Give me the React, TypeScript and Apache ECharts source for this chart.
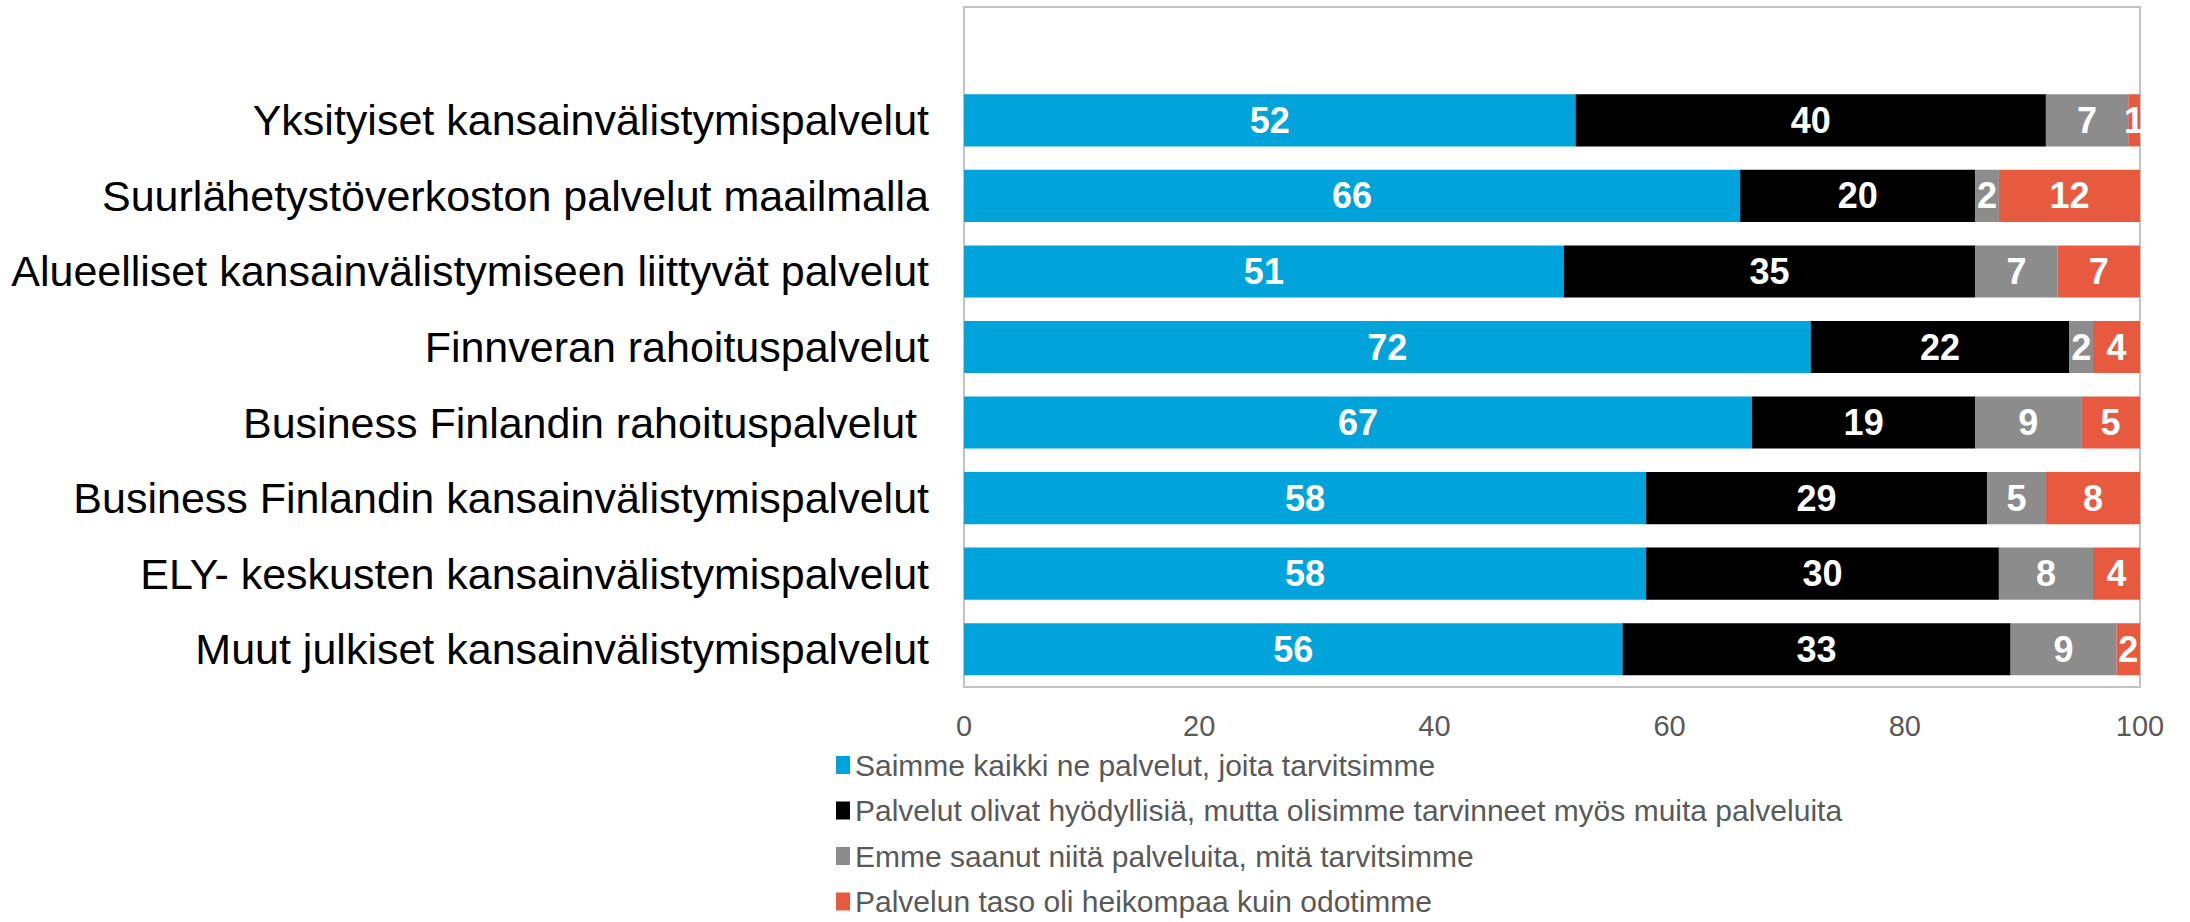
import React, { useEffect, useRef } from "react";
import * as echarts from "echarts";

const categories = [
  "",
  "Yksityiset kansainvälistymispalvelut",
  "Suurlähetystöverkoston palvelut maailmalla",
  "Alueelliset kansainvälistymiseen liittyvät palvelut",
  "Finnveran rahoituspalvelut",
  "Business Finlandin rahoituspalvelut ",
  "Business Finlandin kansainvälistymispalvelut",
  "ELY- keskusten kansainvälistymispalvelut",
  "Muut julkiset kansainvälistymispalvelut",
];

const seriesNames = [
  "Saimme kaikki ne palvelut, joita tarvitsimme",
  "Palvelut olivat hyödyllisiä, mutta olisimme tarvinneet myös muita palveluita",
  "Emme saanut niitä palveluita, mitä tarvitsimme",
  "Palvelun taso oli heikompaa kuin odotimme",
];

const saimme = [null, 52, 66, 51, 72, 67, 58, 58, 56];
const hyodyllisia = [null, 40, 20, 35, 22, 19, 29, 30, 33];
const emmeSaanut = [null, 7, 2, 7, 2, 9, 5, 8, 9];
const heikompaa = [null, 1, 12, 7, 4, 5, 8, 4, 2];

const seriesValues = [saimme, hyodyllisia, emmeSaanut, heikompaa];
const colors = ["#00A3DA", "#000000", "#8C8C8C", "#E85A40"];

const xTicks = { min: 0, max: 100, interval: 20 };

const FONT = "'Liberation Sans', Arial, sans-serif";

export default function App() {
  const ref = useRef<HTMLDivElement>(null);

  useEffect(() => {
    document.body.style.margin = "0";
    if (!ref.current) return;
    const chart = echarts.init(ref.current, undefined, { renderer: "svg" });
    chart.setOption({
      animation: false,
      backgroundColor: "#ffffff",
      textStyle: { fontFamily: FONT },
      grid: {
        left: 964,
        right: 50,
        top: 7,
        bottom: 235,
        show: true,
        borderColor: "#c3c3c3",
        borderWidth: 2,
        containLabel: false,
      },
      legend: {
        orient: "vertical",
        left: 836,
        top: 750,
        height: 200,
        padding: 0,
        icon: "rect",
        itemWidth: 14,
        itemHeight: 18,
        itemGap: 15.5,
        textStyle: {
          fontFamily: FONT,
          fontSize: 30,
          color: "#595959",
          lineHeight: 30,
        },
        data: seriesNames,
      },
      xAxis: {
        type: "value",
        min: xTicks.min,
        max: xTicks.max,
        interval: xTicks.interval,
        axisLine: { show: false },
        axisTick: { show: false },
        splitLine: { show: false },
        axisLabel: {
          fontFamily: FONT,
          fontSize: 29,
          color: "#595959",
          margin: 24,
        },
      },
      yAxis: {
        type: "category",
        inverse: true,
        data: categories,
        axisLine: { show: false },
        axisTick: { show: false },
        axisLabel: {
          fontFamily: FONT,
          fontSize: 43,
          color: "#000000",
          margin: 35,
        },
      },
      series: seriesNames.map((name, i) => ({
        name,
        type: "bar",
        stack: "total",
        barCategoryGap: "31%",
        itemStyle: { color: colors[i] },
        label: {
          show: true,
          position: "inside",
          color: "#ffffff",
          fontFamily: FONT,
          fontWeight: "bold",
          fontSize: 36,
        },
        data: seriesValues[i],
      })),
    });
    return () => chart.dispose();
  }, []);

  return <div ref={ref} style={{ width: 2190, height: 922 }} />;
}
